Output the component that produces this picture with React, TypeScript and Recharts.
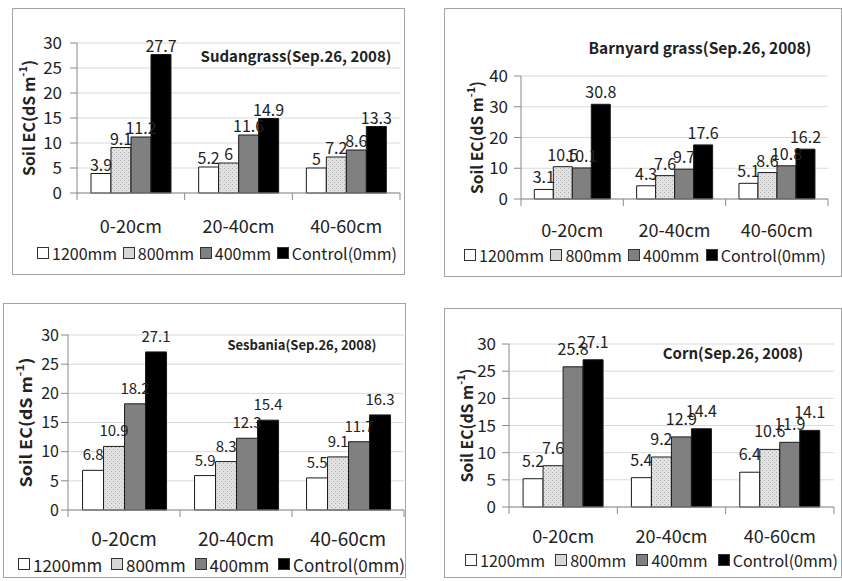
import React from 'react';
import { BarChart, Bar, XAxis, YAxis, CartesianGrid, LabelList, Legend, Label } from 'recharts';

const depths = ['0-20cm', '20-40cm', '40-60cm'];
const seriesNames = ['1200mm', '800mm', '400mm', 'Control(0mm)'];
const seriesKeys = ['s1200', 's800', 's400', 'control'];

// Sudangrass
const sudan1200 = [3.9, 5.2, 5];
const sudan800 = [9.1, 6, 7.2];
const sudan400 = [11.2, 11.6, 8.6];
const sudanControl = [27.7, 14.9, 13.3];

// Barnyard grass
const barn1200 = [3.1, 4.3, 5.1];
const barn800 = [10.5, 7.6, 8.6];
const barn400 = [10.1, 9.7, 10.8];
const barnControl = [30.8, 17.6, 16.2];

// Sesbania
const sesb1200 = [6.8, 5.9, 5.5];
const sesb800 = [10.9, 8.3, 9.1];
const sesb400 = [18.2, 12.3, 11.7];
const sesbControl = [27.1, 15.4, 16.3];

// Corn
const corn1200 = [5.2, 5.4, 6.4];
const corn800 = [7.6, 9.2, 10.6];
const corn400 = [25.8, 12.9, 11.9];
const cornControl = [27.1, 14.4, 14.1];

const ticks30 = [0, 5, 10, 15, 20, 25, 30];
const ticks40 = [0, 10, 20, 30, 40];

const FONT = "'Noto Sans CJK KR', 'Noto Sans', sans-serif";
const AXIS = '#8a8a8a';
const GRID = '#d9d9d9';
const TEXT = '#222';

const swatchFill = ['#ffffff', '#d6d6d6', '#808080', '#000000'];

function Panel(p: any) {
  const rows = depths.map((d, i) => ({
    depth: d,
    s1200: p.values[0][i],
    s800: p.values[1][i],
    s400: p.values[2][i],
    control: p.values[3][i],
  }));
  const { box, plot } = p;
  const xAxisHeight = 40;
  const marginTop = plot.top - box.y;
  const marginRight = box.x + box.w - plot.right;
  const yAxisWidth = plot.left - box.x;
  const marginBottom = box.y + box.h - plot.bottom - xAxisHeight;
  const band = (plot.right - plot.left) / depths.length;
  const axisY = plot.bottom - box.y;
  const patId = 'dots-' + p.id;
  const fills = ['#ffffff', `url(#${patId})`, '#808080', '#000000'];

  const CategoryTick = (t: any) => {
    const { x, index, payload } = t;
    return (
      <g>
        <line x1={x - band / 2} x2={x - band / 2} y1={axisY} y2={axisY + 7} stroke={AXIS} />
        {index === depths.length - 1 && (
          <line x1={x + band / 2} x2={x + band / 2} y1={axisY} y2={axisY + 7} stroke={AXIS} />
        )}
        <text
          x={x}
          y={p.catY - box.y}
          textAnchor="middle"
          dominantBaseline="central"
          fontSize={p.catSize}
          fontFamily={FONT}
          fill={TEXT}
        >
          {payload.value}
        </text>
      </g>
    );
  };

  const YTitle = () => {
    const cx = p.yLabelX - box.x;
    const cy = (plot.top + plot.bottom) / 2 - box.y;
    return (
      <text
        x={cx}
        y={cy}
        transform={`rotate(-90, ${cx}, ${cy})`}
        textAnchor="middle"
        dominantBaseline="central"
        fontSize={16}
        fontWeight="bold"
        fontFamily={FONT}
        fill={TEXT}
        textLength={p.yLabelLen}
        lengthAdjust="spacingAndGlyphs"
      >
        Soil EC(dS m
        <tspan fontSize={11} dy={-6}>-1</tspan>
        <tspan dy={6}>)</tspan>
      </text>
    );
  };

  const LegendContent = () => (
    <div
      style={{
        display: 'flex',
        justifyContent: 'space-between',
        alignItems: 'center',
        fontFamily: FONT,
        fontSize: p.legendSize,
        color: TEXT,
        lineHeight: 1,
      }}
    >
      {seriesNames.map((name, i) => (
        <div key={name} style={{ display: 'flex', alignItems: 'center' }}>
          <span
            style={{
              display: 'inline-block',
              width: 10,
              height: 10,
              border: '1px solid #333',
              background: swatchFill[i],
              marginRight: 3,
            }}
          />
          <span>{name}</span>
        </div>
      ))}
    </div>
  );

  return (
    <>
      <div style={{ position: 'absolute', left: box.x, top: box.y, width: box.w, height: box.h }}>
        <BarChart
          width={box.w}
          height={box.h}
          data={rows}
          margin={{ top: marginTop, right: marginRight, bottom: marginBottom, left: 0 }}
          barCategoryGap={p.catGap}
          barGap={0}
        >
          <defs>
            <pattern id={patId} width={4} height={4} patternUnits="userSpaceOnUse">
              <rect width={4} height={4} fill="#e2e2e2" />
              <rect x={0} y={0} width={1} height={1} fill="#a9a9a9" />
              <rect x={2} y={2} width={1} height={1} fill="#b5b5b5" />
            </pattern>
          </defs>
          <CartesianGrid vertical={false} stroke={GRID} />
          <XAxis
            dataKey="depth"
            height={xAxisHeight}
            interval={0}
            tickLine={false}
            axisLine={{ stroke: AXIS }}
            tick={CategoryTick}
          />
          <YAxis
            width={yAxisWidth}
            domain={[0, p.yMax]}
            ticks={p.ticks}
            interval={0}
            tickSize={7}
            tickMargin={p.tickGap}
            tickLine={{ stroke: AXIS }}
            axisLine={{ stroke: AXIS }}
            tick={{ fontSize: p.tickSize, fontFamily: FONT, fill: TEXT }}
          >
            <Label content={YTitle} />
          </YAxis>
          <Legend
            layout="horizontal"
            verticalAlign="middle"
            align="center"
            content={LegendContent}
            wrapperStyle={{
              left: p.legend.left - box.x,
              top: p.legend.cy - box.y - p.legendSize * 0.6,
              width: p.legend.right - p.legend.left,
              height: p.legendSize * 1.2,
            }}
          />
          {seriesKeys.map((k, i) => (
            <Bar
              key={k}
              dataKey={k}
              name={seriesNames[i]}
              fill={fills[i]}
              stroke="#1a1a1a"
              strokeWidth={1}
              isAnimationActive={false}
            >
              <LabelList
                dataKey={k}
                position="top"
                offset={p.labelOffset}
                style={{ fontSize: p.labelSize, fontFamily: FONT, fill: TEXT }}
              />
            </Bar>
          ))}
        </BarChart>
        <div
          style={{
            position: 'absolute',
            left: p.title.cx - box.x - 150,
            top: p.title.cy - box.y - p.title.size * 0.7,
            width: 300,
            textAlign: 'center',
            fontFamily: FONT,
            fontWeight: 'bold',
            fontSize: p.title.size,
            lineHeight: 1.4,
            color: TEXT,
            whiteSpace: 'nowrap',
          }}
        >
          {p.title.text}
        </div>
      </div>
      <div
        style={{
          position: 'absolute',
          left: box.x,
          top: box.y,
          width: box.w,
          height: box.h,
          boxSizing: 'border-box',
          border: '1px solid #a3a3a3',
          pointerEvents: 'none',
        }}
      />
    </>
  );
}

export default function App() {
  return (
    <div style={{ position: 'absolute', left: 0, top: 0, width: 842, height: 581, background: '#fff', overflow: 'hidden' }}>
      <Panel
        id="sudan"
        values={[sudan1200, sudan800, sudan400, sudanControl]}
        box={{ x: 12, y: 8, w: 393, h: 267 }}
        plot={{ left: 77, top: 43, right: 400, bottom: 193 }}
        yMax={30}
        ticks={ticks30}
        catGap="13%"
        title={{ text: 'Sudangrass(Sep.26, 2008)', cx: 296, cy: 55, size: 15 }}
        catY={225}
        legend={{ cy: 255, left: 37, right: 397 }}
        yLabelX={28}
        yLabelLen={116}
        tickSize={17}
        tickGap={8}
        catSize={18}
        labelSize={16}
        legendSize={16}
        labelOffset={3}
      />
      <Panel
        id="barn"
        values={[barn1200, barn800, barn400, barnControl]}
        box={{ x: 444, y: 8, w: 398, h: 269 }}
        plot={{ left: 521, top: 76, right: 828, bottom: 199 }}
        yMax={40}
        ticks={ticks40}
        catGap="13%"
        title={{ text: 'Barnyard grass(Sep.26, 2008)', cx: 700, cy: 48, size: 15.5 }}
        catY={229}
        legend={{ cy: 257, left: 464, right: 826 }}
        yLabelX={476}
        yLabelLen={113}
        tickSize={17}
        tickGap={6}
        catSize={18}
        labelSize={16}
        legendSize={16}
        labelOffset={6}
      />
      <Panel
        id="sesb"
        values={[sesb1200, sesb800, sesb400, sesbControl]}
        box={{ x: 3, y: 303, w: 403, h: 275 }}
        plot={{ left: 68, top: 335, right: 404, bottom: 510 }}
        yMax={30}
        ticks={ticks30}
        catGap="13%"
        title={{ text: 'Sesbania(Sep.26, 2008)', cx: 302, cy: 345, size: 13 }}
        catY={537}
        legend={{ cy: 566, left: 18, right: 405 }}
        yLabelX={25}
        yLabelLen={130}
        tickSize={16}
        tickGap={2}
        catSize={19}
        labelSize={15}
        legendSize={17}
        labelOffset={10}
      />
      <Panel
        id="corn"
        values={[corn1200, corn800, corn400, cornControl]}
        box={{ x: 444, y: 308, w: 398, h: 270 }}
        plot={{ left: 509, top: 344, right: 834, bottom: 507 }}
        yMax={30}
        ticks={ticks30}
        catGap="13%"
        title={{ text: 'Corn(Sep.26, 2008)', cx: 733, cy: 352, size: 15 }}
        catY={535}
        legend={{ cy: 562, left: 465, right: 838 }}
        yLabelX={466}
        yLabelLen={114}
        tickSize={17}
        tickGap={6}
        catSize={18}
        labelSize={16}
        legendSize={16}
        labelOffset={12}
      />
    </div>
  );
}
